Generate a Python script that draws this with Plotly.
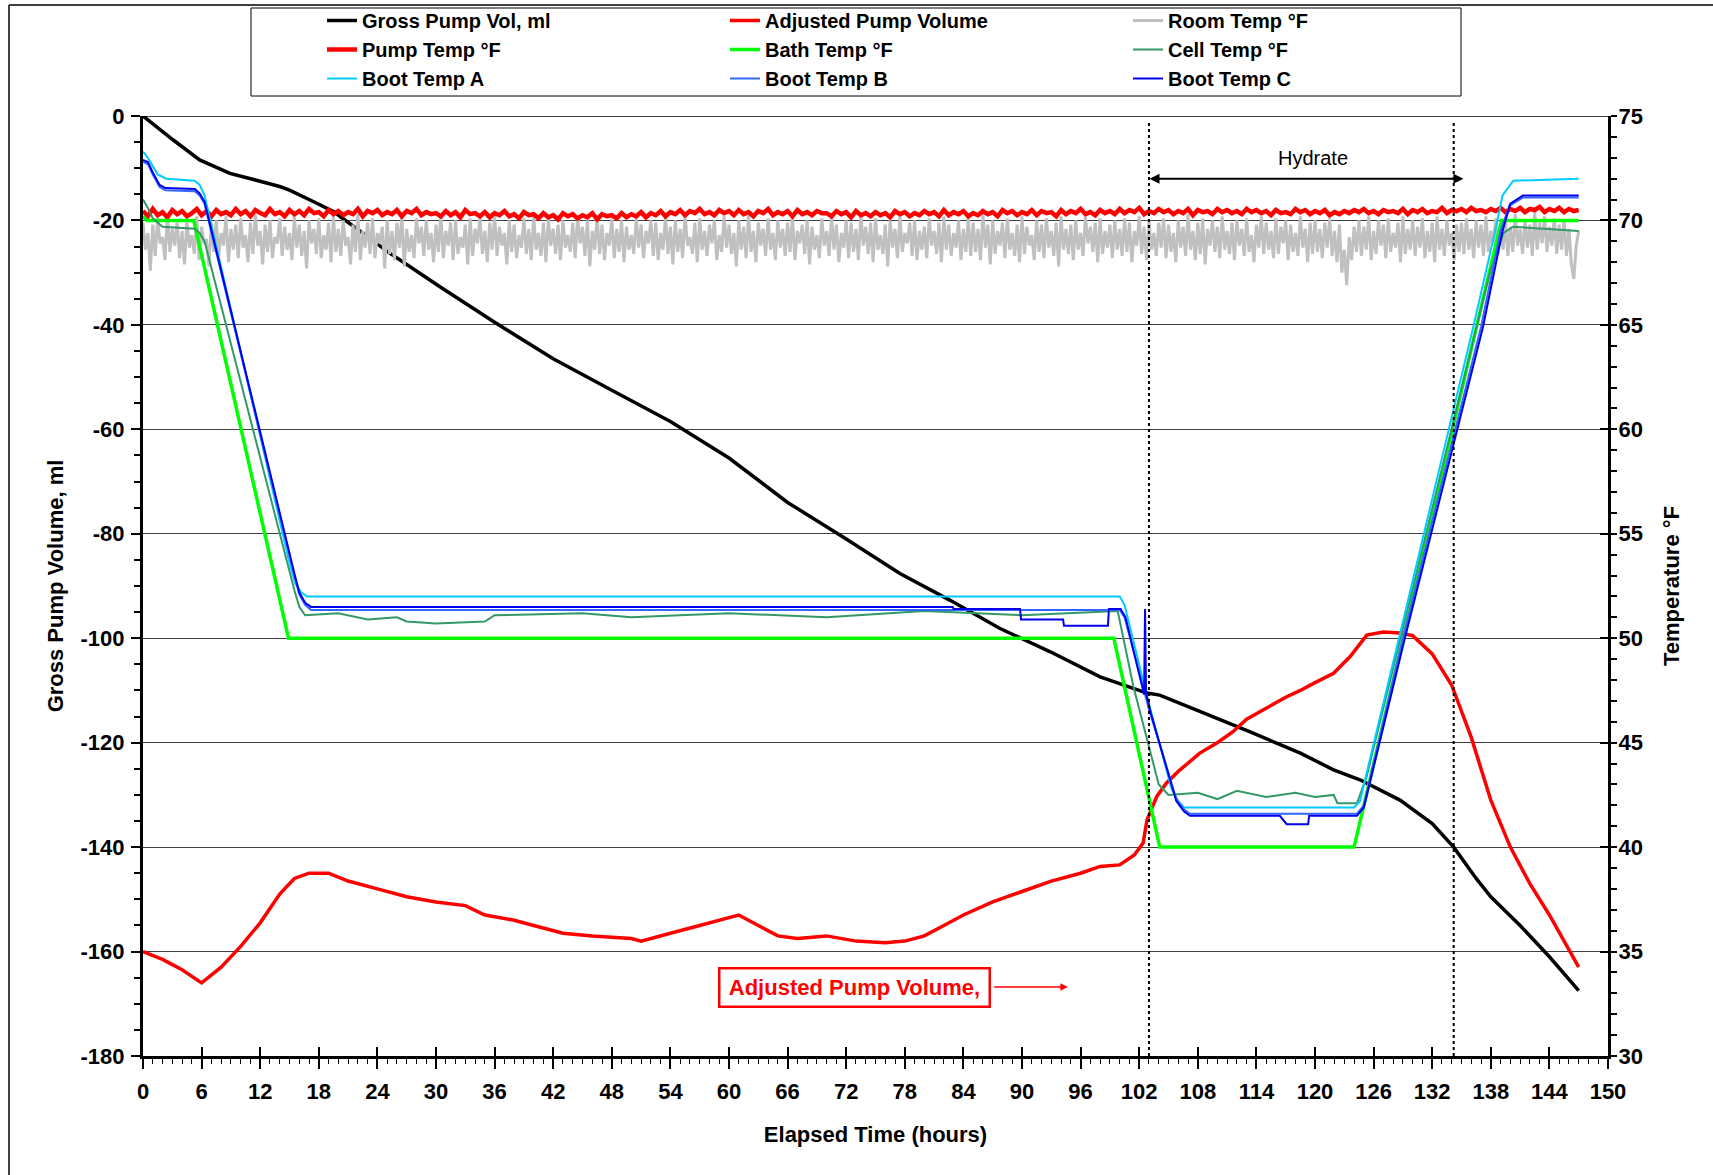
import plotly.graph_objects as go

FONT = "Liberation Sans, Arial, sans-serif"

# ------------------------------------------------------------------ data
GROSS_T = [0, 3.1, 5.8, 8.9, 11.6, 14.0, 15.0, 17.8, 19.5, 25.3, 30.4, 36, 42, 48, 54, 60, 66, 72,
           77.5, 82.6, 87.7, 92.9, 98.0, 102.8, 104.1, 108.2, 113.3, 118.5, 121.9, 124.6, 128.7,
           132.0, 134.2, 136.5, 138.0, 141.0, 144.0, 147.0]
GROSS_VOL = [0, -4.6, -8.4, -11.0, -12.3, -13.5, -14.2, -16.7, -18.3, -26.3, -32.7, -39.5, -46.5,
             -52.5, -58.5, -65.5, -74.0, -81.0, -87.6, -92.7, -98.1, -102.6, -107.4, -110.5, -110.9,
             -114.0, -117.9, -122.0, -125.2, -127.1, -131.0, -135.5, -140.0, -146.0, -149.5, -155.0,
             -161.0, -167.5]

ADJ_T = [0, 2, 4, 6, 8, 10, 12, 14, 15.5, 17, 19, 21, 24, 27, 30, 33, 35, 38, 40, 43, 46, 50, 51,
         54, 57, 60, 61, 63, 65, 67, 70, 73, 76, 78, 80, 82, 84, 87, 90, 93, 96, 98, 100, 101.5,
         102.4, 102.8, 103.8, 104.8, 106, 108.2, 110, 111.6, 113, 115, 117, 118.5, 120, 121.9,
         123.6, 125.3, 127, 128.7, 130, 132, 134, 136, 138, 140, 142, 144, 147]
ADJ_VOL = [-160, -161.5, -163.5, -166, -163, -159, -154.5, -149, -146, -145, -145, -146.5, -148,
           -149.5, -150.5, -151.2, -153, -154, -155, -156.5, -157, -157.5, -158, -156.5, -155,
           -153.5, -153, -155, -157, -157.5, -157, -158, -158.3, -158, -157, -155, -153, -150.5,
           -148.5, -146.5, -145, -143.7, -143.4, -141.5, -139.2, -134.8, -130.3, -127.7, -125.5,
           -122, -120, -117.9, -115.5, -113.4, -111.3, -110, -108.5, -106.7, -103.5, -99.4, -98.8,
           -99, -99.5, -103, -109, -119, -131, -140, -147, -153, -163]

ROOM_STEP_H = 0.25   # room temperature logged every quarter hour
ROOM_TEMP = [
    69.9, 68.6, 69.4, 67.6, 69.8, 68.3, 70.1, 68.9, 69.2, 68.1, 70.3, 68.5, 69.6, 68.8, 69.9, 68.2, 69.5, 67.9, 70.0, 68.7,
    69.3, 68.4, 70.2, 68.1, 69.7, 68.9, 69.1, 67.8, 69.9, 68.5, 70.0, 68.3, 69.4, 68.8, 70.2, 68.0, 69.6, 68.6, 69.8, 68.2,
    70.1, 68.7, 69.3, 68.0, 69.9, 68.4, 70.3, 68.8, 69.5, 67.9, 69.8, 68.5, 70.0, 68.2, 69.2, 68.9, 70.1, 68.3, 69.7, 68.6,
    69.4, 68.1, 70.2, 68.7, 69.8, 68.3, 69.5, 67.7, 70.0, 68.9, 69.6, 68.4, 70.1, 68.2, 69.3, 68.6, 69.9, 68.0, 70.2, 68.5,
    69.6, 68.3, 70.0, 68.8, 69.2, 67.9, 69.8, 68.5, 70.3, 68.1, 69.5, 68.7, 69.9, 68.4, 70.1, 68.2, 69.4, 68.9, 69.7, 67.7,
    70.0, 68.4, 69.5, 68.1, 69.9, 68.7, 70.2, 67.8, 69.6, 68.5, 69.3, 68.2, 70.1, 68.9, 69.7, 68.3, 70.0, 68.6, 69.4, 68.0,
    69.8, 68.5, 70.3, 68.2, 69.5, 68.8, 69.9, 68.1, 70.0, 68.4, 69.2, 68.7, 69.8, 67.9, 70.1, 68.3, 69.6, 68.9, 70.2, 68.4,
    69.5, 68.0, 69.9, 68.6, 70.3, 68.3, 69.7, 68.8, 69.4, 67.9, 70.0, 68.5, 69.8, 68.2, 69.3, 68.7, 70.1, 68.4, 69.6, 68.1,
    70.2, 68.6, 69.4, 68.3, 69.9, 68.0, 70.1, 68.8, 69.6, 68.4, 69.8, 68.1, 70.0, 68.7, 69.3, 68.5, 69.9, 68.2, 70.2, 68.9,
    69.7, 68.3, 70.0, 67.8, 69.5, 68.6, 70.2, 68.4, 69.8, 68.1, 69.4, 68.8, 70.1, 68.2, 69.6, 68.5, 70.0, 68.0, 69.7, 68.6,
    69.3, 68.4, 70.1, 68.7, 69.8, 68.2, 69.5, 68.9, 70.0, 68.3, 69.9, 68.1, 69.4, 68.6, 70.2, 68.4, 69.7, 67.9, 70.0, 68.5,
    69.6, 68.2, 70.3, 68.8, 69.2, 68.4, 69.9, 68.0, 70.1, 68.6, 69.5, 68.3, 69.8, 68.9, 70.0, 68.1, 69.3, 68.5, 70.2, 68.7,
    69.8, 68.4, 69.4, 67.8, 70.0, 68.6, 69.7, 68.2, 70.3, 68.5, 69.5, 68.0, 69.9, 68.8, 69.6, 68.3, 70.1, 68.6, 69.4, 68.1,
    70.0, 68.7, 69.6, 68.3, 69.9, 68.5, 70.2, 68.1, 69.5, 68.9, 69.8, 68.4, 70.0, 67.9, 69.7, 68.6, 69.3, 68.2, 70.1, 68.8,
    69.5, 68.3, 70.2, 68.6, 69.8, 68.0, 69.4, 68.7, 70.0, 68.2, 69.9, 68.5, 69.6, 68.1, 70.3, 68.8, 69.7, 68.4, 69.9, 68.0,
    70.1, 68.6, 69.3, 68.4, 69.8, 67.8, 70.0, 68.7, 69.6, 68.2, 70.2, 68.5, 69.4, 68.9, 69.9, 68.3, 70.0, 68.1, 69.5, 68.6,
    69.7, 68.2, 70.1, 68.8, 69.5, 68.4, 69.9, 68.0, 70.2, 68.6, 69.8, 68.3, 69.4, 68.7, 70.0, 68.1, 69.6, 68.5, 70.1, 68.3,
    69.9, 68.5, 69.6, 68.1, 70.3, 68.7, 69.8, 67.9, 70.0, 68.4, 69.5, 68.8, 69.9, 68.2, 70.1, 68.6, 69.4, 68.3, 69.8, 68.0,
    70.2, 68.4, 69.7, 68.8, 69.3, 68.1, 70.0, 68.5, 69.8, 68.2, 70.1, 68.7, 69.5, 68.3, 69.9, 67.8, 70.2, 68.6, 69.6, 68.4,
    69.8, 68.1, 70.0, 68.6, 69.4, 68.3, 70.2, 68.9, 69.7, 68.5, 69.9, 68.0, 70.1, 68.4, 69.5, 68.7, 69.8, 68.2, 70.0, 68.6,
    69.6, 68.3, 70.1, 68.5, 69.9, 68.0, 69.5, 68.8, 70.2, 68.4, 69.7, 68.1, 70.0, 68.6, 69.4, 68.3, 69.9, 68.7, 70.1, 68.2,
    69.8, 68.5, 69.4, 68.0, 70.0, 68.7, 69.7, 68.3, 70.3, 68.6, 69.5, 68.1, 69.9, 68.4, 70.1, 67.9, 69.6, 68.8, 70.0, 68.5,
    69.7, 68.2, 70.2, 68.6, 69.5, 68.4, 69.9, 68.1, 70.0, 68.8, 69.6, 68.3, 70.1, 68.5, 69.3, 68.0, 69.8, 68.7, 70.2, 68.4,
    69.9, 68.6, 69.5, 68.2, 70.1, 68.4, 69.7, 68.9, 70.0, 68.1, 69.8, 68.5, 69.4, 68.3, 70.2, 68.7, 69.6, 68.0, 69.9, 68.4,
    70.0, 68.5, 69.6, 68.2, 69.9, 68.7, 70.1, 68.3, 69.5, 68.0, 69.8, 67.5, 68.6, 66.9, 69.2, 68.1, 69.7, 68.5, 70.0, 68.3,
    69.7, 68.6, 70.2, 68.1, 69.5, 68.4, 70.0, 68.8, 69.8, 68.2, 70.1, 68.5, 69.4, 68.7, 69.9, 68.0, 70.2, 68.4, 69.6, 68.6,
    70.0, 68.3, 69.7, 68.7, 70.1, 68.2, 69.5, 68.5, 69.9, 68.0, 70.2, 68.6, 69.6, 68.3, 70.0, 68.8, 69.4, 68.1, 69.8, 68.5,
    69.9, 68.4, 70.1, 68.6, 69.6, 68.2, 70.0, 68.7, 69.8, 68.3, 70.2, 68.5, 69.5, 68.9, 70.1, 68.4, 69.8, 68.6, 70.0, 68.3,
    69.7, 68.5, 70.3, 68.8, 69.6, 68.4, 70.0, 68.7, 69.8, 68.3, 70.4, 68.6, 69.9, 68.9, 70.2, 68.5, 69.7, 68.8, 70.1, 68.4,
    69.8, 68.6, 70.0, 68.3, 69.6, 67.9, 67.2, 68.8, 69.5,
]

PUMP_STEP_H = 0.5    # pump temperature logged every half hour
PUMP_TEMP = [
    70.45, 70.20, 70.55, 70.25, 70.40, 70.15, 70.50, 70.30, 70.45, 70.20,
    70.35, 70.55, 70.25, 70.45, 70.20, 70.50, 70.30, 70.40, 70.25, 70.55,
    70.30, 70.45, 70.20, 70.50, 70.35, 70.25, 70.55, 70.30, 70.40, 70.20,
    70.50, 70.30, 70.45, 70.25, 70.55, 70.35, 70.40, 70.20, 70.50, 70.30,
    70.45, 70.25, 70.40, 70.30, 70.55, 70.20, 70.45, 70.35, 70.50, 70.25,
    70.40, 70.30, 70.50, 70.20, 70.45, 70.35, 70.55, 70.25, 70.40, 70.30,
    70.35, 70.20, 70.45, 70.25, 70.40, 70.15, 70.50, 70.30, 70.35, 70.20,
    70.40, 70.15, 70.35, 70.25, 70.45, 70.20, 70.30, 70.10, 70.40, 70.25,
    70.30, 70.10, 70.35, 70.15, 70.25, 70.05, 70.35, 70.20, 70.30, 70.10,
    70.25, 70.15, 70.35, 70.05, 70.30, 70.20, 70.25, 70.10, 70.35, 70.15,
    70.30, 70.20, 70.40, 70.15, 70.35, 70.25, 70.45, 70.20, 70.40, 70.30,
    70.50, 70.25, 70.45, 70.35, 70.55, 70.30, 70.40, 70.25, 70.50, 70.35,
    70.45, 70.25, 70.50, 70.30, 70.40, 70.20, 70.45, 70.35, 70.55, 70.25,
    70.40, 70.30, 70.45, 70.20, 70.50, 70.30, 70.40, 70.25, 70.45, 70.35,
    70.35, 70.20, 70.45, 70.30, 70.40, 70.15, 70.45, 70.25, 70.35, 70.20,
    70.40, 70.25, 70.35, 70.15, 70.45, 70.30, 70.40, 70.20, 70.35, 70.25,
    70.45, 70.30, 70.40, 70.20, 70.50, 70.25, 70.40, 70.30, 70.45, 70.20,
    70.35, 70.25, 70.45, 70.30, 70.40, 70.20, 70.50, 70.35, 70.45, 70.25,
    70.40, 70.30, 70.50, 70.25, 70.45, 70.35, 70.40, 70.20, 70.50, 70.30,
    70.45, 70.35, 70.55, 70.30, 70.40, 70.25, 70.50, 70.35, 70.45, 70.30,
    70.55, 70.35, 70.50, 70.40, 70.60, 70.30, 70.45, 70.35, 70.55, 70.40,
    70.50, 70.30, 70.45, 70.35, 70.55, 70.25, 70.50, 70.40, 70.45, 70.30,
    70.55, 70.40, 70.50, 70.35, 70.45, 70.30, 70.55, 70.40, 70.50, 70.35,
    70.45, 70.25, 70.50, 70.35, 70.40, 70.30, 70.55, 70.40, 70.50, 70.30,
    70.45, 70.35, 70.50, 70.25, 70.40, 70.30, 70.45, 70.35, 70.50, 70.40,
    70.55, 70.35, 70.45, 70.30, 70.50, 70.40, 70.45, 70.35, 70.55, 70.30,
    70.50, 70.40, 70.55, 70.35, 70.45, 70.40, 70.60, 70.35, 70.50, 70.45,
    70.55, 70.40, 70.60, 70.45, 70.50, 70.40, 70.55, 70.45, 70.60, 70.40,
    70.55, 70.45, 70.60, 70.40, 70.55, 70.50, 70.65, 70.40, 70.55, 70.45,
    70.60, 70.40, 70.55, 70.45, 70.50,
]

BATH_T = [0, 0.4, 5.2, 14.9, 99.4, 104.1, 124.0, 139.1, 147.0]
BATH_TEMP = [70.2, 70.0, 70.0, 50.0, 50.0, 40.0, 40.0, 70.0, 70.0]

CELL_T = [0, 0.5, 1.0, 2.0, 5.3, 5.8, 6.3, 15.5, 16.0, 16.6, 20, 23, 26.0, 27.0, 30, 35.0, 36.0, 45,
          50, 60, 70, 80, 90, 99.8, 101.4, 104.0, 105.0, 108, 110, 112, 115, 118, 120, 121.9, 122.3,
          124.3, 125.3, 128.7, 137.9, 139.3, 140.3, 147.0]
CELL_TEMP = [71.0, 70.6, 70.1, 69.7, 69.6, 69.4, 69.0, 52.3, 51.5, 51.1, 51.2, 50.9, 51.0, 50.8,
             50.7, 50.8, 51.1, 51.2, 51.0, 51.2, 51.0, 51.3, 51.1, 51.3, 47.7, 43.0, 42.5, 42.6,
             42.3, 42.7, 42.4, 42.6, 42.4, 42.5, 42.1, 42.1, 43.4, 49.9, 67.5, 69.4, 69.7, 69.5]

BOOT_A_T = [0, 0.5, 1.0, 1.5, 2.4, 5.3, 5.8, 6.3, 15.0, 15.6, 16.2, 16.8, 100.0, 100.5, 102.8, 105.3,
            106.0, 106.6, 124.0, 124.6, 128.7, 136.2, 138.5, 139.2, 140.3, 147.0]
BOOT_A_TEMP = [73.3, 73.0, 72.6, 72.2, 72.0, 71.9, 71.7, 71.2, 53.6, 52.6, 52.2, 52.0, 52.0, 51.6,
               47.2, 42.8, 42.2, 41.9, 41.9, 42.2, 50.2, 64.9, 69.6, 71.2, 71.9, 72.0]

BOOT_B_T = [0, 0.5, 1.0, 1.7, 2.3, 5.3, 5.8, 6.3, 15.5, 16.0, 16.6, 17.2, 100.0, 100.5, 103.0, 105.8,
            106.6, 107.2, 124.3, 125.0, 129.0, 137.0, 139.0, 139.9, 141.3, 147.0]
BOOT_B_TEMP = [72.8, 72.7, 72.2, 71.6, 71.45, 71.4, 71.2, 70.8, 53.0, 52.1, 51.6, 51.35, 51.35, 51.0,
               46.6, 42.3, 41.8, 41.6, 41.6, 42.0, 50.0, 64.9, 69.5, 70.7, 71.1, 71.1]

BOOT_C_T = [0, 0.5, 1.0, 1.7, 2.3, 5.3, 5.8, 6.3, 15.5, 16.0, 16.6, 17.2, 82.9, 83.0, 89.8, 89.9,
            94.2, 94.3, 98.8, 98.9, 100.1, 100.6, 102.5, 102.6, 102.7, 103.2, 105.8, 106.6, 107.2,
            116.4, 117.1, 119.3, 119.4, 124.3, 125.0, 129.2, 137.2, 139.2, 140.0, 141.3, 147.0]
BOOT_C_TEMP = [72.9, 72.8, 72.3, 71.7, 71.55, 71.5, 71.3, 70.9, 53.1, 52.2, 51.7, 51.5, 51.5, 51.4,
               51.4, 50.9, 50.9, 50.6, 50.6, 51.4, 51.4, 51.0, 47.3, 51.4, 47.4, 46.4, 42.2, 41.7,
               41.5, 41.5, 41.1, 41.1, 41.5, 41.5, 41.9, 50.0, 64.9, 69.5, 70.8, 71.2, 71.2]

HYDRATE_BOUNDS = [103.0, 134.2]
LEFT_RANGE = [-180, 0]
RIGHT_RANGE = [30, 75]
X_RANGE = [0, 150]
LEFT_TICKS = [-180, -160, -140, -120, -100, -80, -60, -40, -20, 0]
LEFT_TICK_TEXT = ["-180", "-160", "-140", "-120", "-100", "-80", "-60", "-40", "-20", "0"]

room_t = [i * ROOM_STEP_H for i in range(len(ROOM_TEMP))]
pump_t = [i * PUMP_STEP_H for i in range(len(PUMP_TEMP))]

# ------------------------------------------------------------------ geometry
W, H = 1713, 1175
ML, MR, MT, MB = 143, 105, 116, 119
PW, PH = W - ML - MR, H - MT - MB


def px_x(px):
    return (px - ML) / PW


def px_y(py):
    return (H - MB - py) / PH


fig = go.Figure()

series = [
    ("Gross Pump Vol, ml", GROSS_T, GROSS_VOL, "#000000", 3.5, "y"),
    ("Adjusted Pump Volume", ADJ_T, ADJ_VOL, "#FF0000", 3.5, "y"),
    ("Room Temp °F", room_t, ROOM_TEMP, "#C0C0C0", 3.0, "y2"),
    ("Pump Temp °F", pump_t, PUMP_TEMP, "#FF0000", 4.5, "y2"),
    ("Bath Temp °F", BATH_T, BATH_TEMP, "#00FF00", 3.5, "y2"),
    ("Cell Temp °F", CELL_T, CELL_TEMP, "#339966", 2, "y2"),
    ("Boot Temp A", BOOT_A_T, BOOT_A_TEMP, "#00CCFF", 2, "y2"),
    ("Boot Temp B", BOOT_B_T, BOOT_B_TEMP, "#3366FF", 2, "y2"),
    ("Boot Temp C", BOOT_C_T, BOOT_C_TEMP, "#0000EE", 2, "y2"),
]
for name, xs, ys, color, width, yax in series:
    fig.add_trace(go.Scatter(x=xs, y=ys, name=name, mode="lines", yaxis=yax,
                             line=dict(color=color, width=width, simplify=False)))

# empty helper traces so the inner halves of the crossing tick marks get drawn
fig.add_trace(go.Scatter(x=[None], y=[None], xaxis="x2", yaxis="y", showlegend=False,
                         hoverinfo="skip"))
fig.add_trace(go.Scatter(x=[None], y=[None], xaxis="x", yaxis="y3", showlegend=False,
                         hoverinfo="skip"))

tickfont = dict(family=FONT, size=22, color="black", weight="bold")
titlefont = dict(family=FONT, size=22, color="black", weight="bold")

fig.update_layout(
    width=W, height=H,
    margin=dict(l=ML, r=MR, t=MT, b=MB, autoexpand=False),
    paper_bgcolor="white", plot_bgcolor="white",
    font=dict(family=FONT, color="black"),
    showlegend=True,
    legend=dict(orientation="h", x=px_x(322), y=px_y(1), xanchor="left", yanchor="top",
                entrywidth=358, entrywidthmode="pixels", bgcolor="rgba(0,0,0,0)",
                font=dict(family=FONT, size=20, color="black", weight="bold"),
                tracegroupgap=0),
    xaxis=dict(range=X_RANGE, dtick=6, tick0=0, showgrid=False, zeroline=False,
               showline=True, linecolor="black", linewidth=3,
               ticks="outside", ticklen=10, tickwidth=2, tickcolor="black",
               minor=dict(dtick=1, ticks="outside", ticklen=5, tickwidth=1, tickcolor="black"),
               tickfont=tickfont, ticklabelstandoff=4,
               title=dict(text="Elapsed Time (hours)", font=titlefont, standoff=24)),
    xaxis2=dict(range=X_RANGE, dtick=6, tick0=0, overlaying="x", anchor="y", side="bottom",
                showgrid=False, zeroline=False, showline=False, showticklabels=False,
                ticks="inside", ticklen=9, tickwidth=2, tickcolor="black"),
    yaxis=dict(range=LEFT_RANGE, tickmode="array", tickvals=LEFT_TICKS,
               ticktext=LEFT_TICK_TEXT, showgrid=True, gridcolor="#404040",
               gridwidth=1, zeroline=True, zerolinecolor="#404040", zerolinewidth=1,
               showline=True, linecolor="black", linewidth=3,
               ticks="outside", ticklen=9, tickwidth=2, tickcolor="black",
               minor=dict(dtick=5, tick0=0, ticks="outside", ticklen=6, tickwidth=1.5,
                          tickcolor="black", showgrid=False),
               tickfont=tickfont, ticklabelstandoff=2,
               title=dict(text="Gross Pump Volume, ml", font=titlefont, standoff=11)),
    yaxis2=dict(range=RIGHT_RANGE, dtick=5, tick0=30, overlaying="y", side="right",
                showgrid=False, zeroline=False, showline=True, linecolor="black",
                linewidth=3, ticks="outside", ticklen=6, tickwidth=2, tickcolor="black",
                minor=dict(dtick=1, ticks="outside", ticklen=6, tickwidth=1.5,
                           tickcolor="black"),
                tickfont=tickfont, ticklabelstandoff=-3,
                title=dict(text="Temperature °F", font=titlefont, standoff=22)),
    yaxis3=dict(range=RIGHT_RANGE, dtick=5, tick0=30, overlaying="y", side="right",
                anchor="x", showgrid=False, zeroline=False, showline=False,
                showticklabels=False, ticks="inside", ticklen=8, tickwidth=2,
                tickcolor="black"),
)

# hydrate period markers
for xb in HYDRATE_BOUNDS:
    fig.add_shape(type="line", xref="x", yref="paper", x0=xb, x1=xb, y0=0, y1=0.995,
                  line=dict(color="black", width=2, dash="dot"))

fig.add_annotation(x=HYDRATE_BOUNDS[1] + 1.0, y=72.0, xref="x", yref="y2",
                   ax=HYDRATE_BOUNDS[0] - 0.1, ay=72.0, axref="x", ayref="y2",
                   text="", showarrow=True, arrowside="end+start", arrowhead=2,
                   arrowsize=1, arrowwidth=2, arrowcolor="black", standoff=0, startstandoff=0)
fig.add_annotation(x=(HYDRATE_BOUNDS[0] + HYDRATE_BOUNDS[1]) / 2 + 1.2, y=73.0, xref="x",
                   yref="y2", text="Hydrate", showarrow=False,
                   font=dict(family=FONT, size=20, color="black"))

# red callout box
fig.add_annotation(x=72.8, y=-166.8, xref="x", yref="y", text="Adjusted Pump Volume,",
                   showarrow=False, font=dict(family=FONT, size=22, color="#FF0000",
                                              weight="bold"),
                   bordercolor="#FF0000", borderwidth=2.5, borderpad=3, bgcolor="white",
                   width=262, height=30)
fig.add_annotation(x=94.7, y=-166.8, xref="x", yref="y", ax=87.0, ay=-166.8, axref="x",
                   ayref="y", text="", showarrow=True, arrowhead=2, arrowsize=1,
                   arrowwidth=1.5, arrowcolor="#FF0000", standoff=0, startstandoff=0)

# legend frame and chart-area border
fig.add_shape(type="rect", xref="paper", yref="paper", x0=px_x(251), x1=px_x(1461),
              y0=px_y(96), y1=px_y(8), line=dict(color="black", width=1), layer="below")
fig.add_shape(type="line", xref="paper", yref="paper", x0=px_x(9), x1=px_x(1713),
              y0=px_y(5), y1=px_y(5), line=dict(color="#404040", width=2))
fig.add_shape(type="line", xref="paper", yref="paper", x0=px_x(9), x1=px_x(9),
              y0=px_y(5), y1=px_y(1175), line=dict(color="#404040", width=2))

fig.write_html("out.html", config={"displayModeBar": False},
               post_script="document.body.style.margin='0px';")
